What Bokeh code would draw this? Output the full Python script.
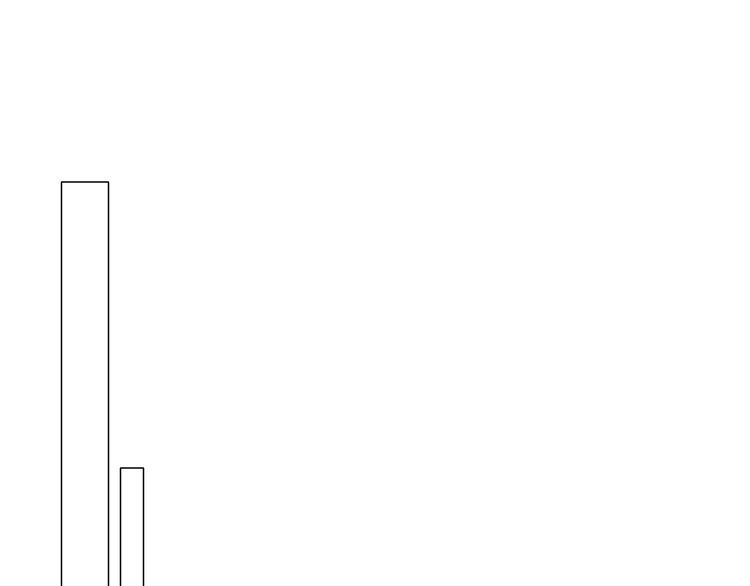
from bokeh.plotting import figure
from bokeh.embed import file_html
from bokeh.resources import INLINE
from bokeh.models import ColumnDataSource, Range1d

# data
x_pos = [7.65, 12.35]
bar_widths = [4.7, 2.3]
values = [7, 2.05]
baseline = -0.5

src = ColumnDataSource(dict(x=x_pos, w=bar_widths, top=values))

p = figure(width=742, height=600, output_backend="svg", toolbar_location=None,
           x_range=Range1d(0, 73.4), y_range=Range1d(-0.242, 10), min_border=0,
           min_border_left=8, min_border_top=8)
p.axis.visible = False
p.grid.visible = False
p.outline_line_color = None
p.vbar(x="x", width="w", top="top", bottom=baseline, source=src,
       fill_color=None, line_color="black", line_width=1.5)

open("out.html", "w").write(file_html(p, INLINE))
